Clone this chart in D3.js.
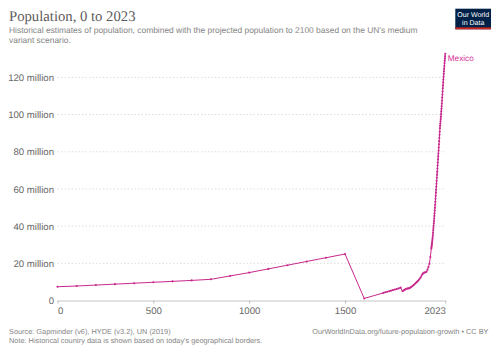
<!DOCTYPE html>
<html><head><meta charset="utf-8">
<script src="https://cdn.jsdelivr.net/npm/d3@7/dist/d3.min.js"></script>
<style>html,body{margin:0;padding:0;background:#fff}svg{display:block}text{font-family:"Liberation Sans",Arial,sans-serif;text-rendering:geometricPrecision}</style>
</head><body><svg id="c" width="500" height="353"></svg>
<script>
const titleText = "Population, 0 to 2023";
const subtitleLines = ["Historical estimates of population, combined with the projected population to 2100 based on the UN's medium","variant scenario."];
const sourceText = "Source: Gapminder (v6), HYDE (v3.2), UN (2019)";
const noteText = "Note: Historical country data is shown based on today's geographical borders.";
const urlText = "OurWorldInData.org/future-population-growth • CC BY";
const seriesName = "Mexico";
const xTicks = [0,500,1000,1500,2023];
const yTicks = [0,20e6,40e6,60e6,80e6,100e6,120e6];
const yearsAncient = [0,100,200,300,400,500,600,700,800,900,1000,1100,1200,1300,1400,1500,1600,1700,1710,1720,1730,1740,1750,1760,1770,1780,1790];
const valuesAncient = [7.4,7.8,8.3,8.8,9.3,9.8,10.3,10.8,11.4,13.2,15,17,19,21,23,25,1.1,4.1,4.4,4.7,5.0,5.3,5.6,5.9,6.2,6.5,6.9];
const yearsModern = [1800,1805,1810,1815,1820,1825,1830,1835,1840,1845,1850,1855,1860,1865,1870,1875,1880,1885,1890,1895,1900,1905,1910,1915,1920,1925,1930,1935,1940,1945];
const valuesModern = [5.0,5.4,5.7,6.0,6.3,6.4,6.5,6.6,6.9,7.3,7.7,8.1,8.5,9.0,9.5,10.0,10.5,11.1,11.8,12.5,13.6,14.3,14.9,15.0,15.2,15.5,16.6,18.0,19.8,23.4];
const yearsRecent = d3.range(1950,2024);
const valuesRecent = [28.0,28.7,29.5,30.3,31.1,32.0,33.0,34.0,35.1,36.4,37.8,39.0,40.2,41.5,42.8,44.1,45.5,46.9,48.4,49.9,51.5,53.1,54.7,56.3,58.0,59.6,61.2,62.8,64.4,66.0,67.7,69.3,71.0,72.6,74.2,75.9,77.5,79.1,80.7,82.3,84.0,85.7,87.4,89.1,90.8,92.6,94.0,95.2,96.4,97.6,98.9,100.3,101.7,103.1,104.5,106.0,107.6,109.2,110.8,112.4,114.1,115.7,117.3,118.9,120.4,121.9,123.3,124.7,126.1,127.6,128.9,130.1,131.4,132.7];

const data = yearsAncient.map((y,i)=>({y,v:valuesAncient[i]*1e6}))
 .concat(yearsModern.map((y,i)=>({y,v:valuesModern[i]*1e6})))
 .concat(yearsRecent.map((y,i)=>({y,v:valuesRecent[i]*1e6})));

const lineColor="#c8288c", labelColor="#d6339a";
const svg=d3.select("#c");
const x=d3.scaleLinear().domain([0,2023]).range([57.5,445.3]);
const y=d3.scaleLinear().domain([0,120e6]).range([300.5,77.4]);

svg.append("text").attr("x",9).attr("y",20.5).attr("font-size",14.7).attr("fill","#5b5b5b").style("font-family",'"Liberation Serif",Georgia,serif').text(titleText);
svg.selectAll(".sub").data(subtitleLines).join("text").attr("x",9).attr("y",(d,i)=>32.5+i*10).attr("font-size",8.43).attr("fill","#858585").text(d=>d);

const fmt=v=>v===0?"0":(v/1e6)+" million";
const g=svg.append("g");
const yA=d3.axisLeft(y).tickValues(yTicks).tickFormat(fmt).tickSize(0).tickPadding(3.5);
const yG=g.append("g").attr("transform","translate(57.5,0)").call(yA);
yG.select(".domain").remove();
yG.selectAll("text").attr("font-size",9.6).attr("fill","#666").style("font-family",'"Liberation Sans",Arial,sans-serif');
g.append("g").selectAll("line").data(yTicks.filter(d=>d>0)).join("line")
 .attr("x1",57.5).attr("x2",445.3).attr("y1",d=>y(d)).attr("y2",d=>y(d))
 .attr("stroke","#ddd").attr("stroke-width",1).attr("stroke-dasharray","1.5,2");

const xA=d3.axisBottom(x).tickValues(xTicks).tickFormat(d3.format("d")).tickSize(3).tickPadding(3.5).tickSizeOuter(0);
const xG=g.append("g").attr("transform","translate(0,300.5)").call(xA);
xG.select(".domain").attr("stroke","#c4c4c4");
xG.selectAll("line").attr("stroke","#bdbdbd");
xG.selectAll("text").attr("font-size",9.6).attr("fill","#666").style("font-family",'"Liberation Sans",Arial,sans-serif')
 .attr("text-anchor",d=>d===0?"start":d===2023?"end":"middle");

const line=d3.line().x(d=>x(d.y)).y(d=>y(d.v));
svg.append("path").datum(data).attr("d",line).attr("fill","none").attr("stroke",lineColor).attr("stroke-width",1).attr("stroke-linejoin","round");
svg.append("g").selectAll("circle").data(data).join("circle").attr("cx",d=>x(d.y)).attr("cy",d=>y(d.v)).attr("r",1.05).attr("fill",lineColor);
const last=data[data.length-1];
svg.append("text").attr("x",x(last.y)+2.5).attr("y",y(last.v)+7).attr("font-size",8.2).attr("fill",labelColor).text(seriesName);

const logo=svg.append("g");
logo.append("rect").attr("x",455.3).attr("y",8.7).attr("width",35.7).attr("height",20.6).attr("fill","#002147");
logo.append("rect").attr("x",455.3).attr("y",27.4).attr("width",35.7).attr("height",1.9).attr("fill","#ce261e");
logo.selectAll("text").data(["Our World","in Data"]).join("text").attr("x",473.2).attr("y",(d,i)=>16.8+i*8).attr("text-anchor","middle").attr("font-size",7).attr("fill","#fff").text(d=>d);

svg.append("text").attr("x",9).attr("y",334).attr("font-size",7.35).attr("fill","#858585").text(sourceText);
svg.append("text").attr("x",9).attr("y",343).attr("font-size",7.35).attr("fill","#858585").text(noteText);
svg.append("text").attr("x",488.5).attr("y",334).attr("text-anchor","end").attr("font-size",7.35).attr("fill","#858585").text(urlText);
</script></body></html>
